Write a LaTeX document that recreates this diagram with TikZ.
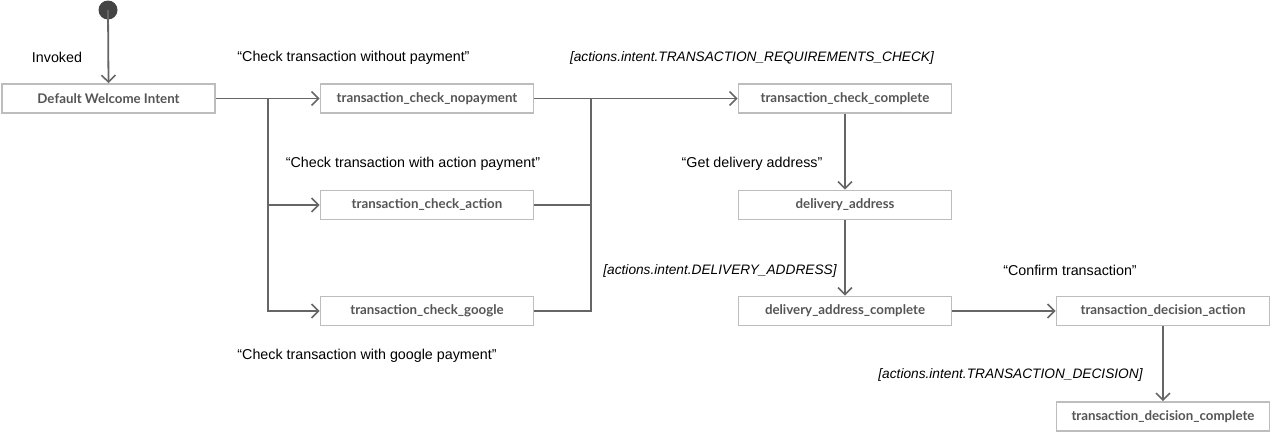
\documentclass[tikz,border=0pt]{standalone}
\usepackage{fontspec}
\setmainfont{Liberation Sans}
\newfontfamily\boxfont{Lato}
\usetikzlibrary{arrows.meta}
\definecolor{boxgray}{HTML}{BDBDBD}
\definecolor{linegray}{HTML}{666666}
\definecolor{textgray}{HTML}{555555}
\definecolor{dotgray}{HTML}{444444}
\begin{document}
\begin{tikzpicture}[x=1pt, y=-1pt,
    state/.style={draw=boxgray, line width=1.6pt, fill=white, minimum width=213pt, minimum height=29pt,
      inner sep=0pt, text=textgray, font=\boxfont\bfseries\fontsize{13.3}{15}\selectfont},
    trigger/.style={inner sep=0pt, font=\fontsize{14.3}{17}\selectfont},
    guard/.style={trigger, font=\itshape\fontsize{13.7}{17}\selectfont},
    flow/.style={draw=linegray, line width=1.8pt, -{Straight Barb[length=7pt, width=14pt, line width=1.6pt]}},
    wire/.style={draw=linegray, line width=1.8pt}]
    \useasboundingbox (0,0) rectangle (1271,432);

    % Start point
    \fill[dotgray] (108,10) circle (9.5) coordinate (start);

    % States
    \node[state] (welcome) at (108.5,98.5) {Default Welcome Intent};
    \node[state] (nopayment) at (427,98.5) {transaction\_check\_nopayment};
    \node[state] (action) at (427,205) {transaction\_check\_action};
    \node[state] (google) at (427,311) {transaction\_check\_google};
    \node[state] (checkcomplete) at (845,98.5) {transaction\_check\_complete};
    \node[state] (address) at (845,205) {delivery\_address};
    \node[state] (addresscomplete) at (845,311) {delivery\_address\_complete};
    \node[state] (decision) at (1163,311) {transaction\_decision\_action};
    \node[state] (decisioncomplete) at (1163,416.5) {transaction\_decision\_complete};

    % Branch and join points
    \coordinate (split) at (268,98.5);
    \coordinate (join) at (591,98.5);

    % Transitions
    \draw[flow] (start) -- (welcome.north);
    \draw[flow] (welcome.east) -- (nopayment.west);
    \draw[flow] (split) |- (action.west);
    \draw[flow] (split) |- (google.west);
    \draw[wire] (action.east) -| (join);
    \draw[wire] (google.east) -| (join);
    \draw[flow] (nopayment.east) -- (checkcomplete.west);
    \draw[flow] (checkcomplete.south) -- (address.north);
    \draw[flow] (address.south) -- (addresscomplete.north);
    \draw[flow] (addresscomplete.east) -- (decision.west);
    \draw[flow] (decision.south) -- (decisioncomplete.north);

    % Labels
    \node[trigger] (invoked) at (57,57.5) {Invoked};
    \node[trigger] (saynopayment) at (353.5,57.5) {“Check transaction without payment”};
    \node[trigger] (sayaction) at (413,163.5) {“Check transaction with action payment”};
    \node[trigger] (saygoogle) at (367,355.5) {“Check transaction with google payment”};
    \node[guard] (requirements) at (752,57.5) {[actions.intent.TRANSACTION\_REQUIREMENTS\_CHECK]};
    \node[trigger] (sayaddress) at (752,163.5) {“Get delivery address”};
    \node[guard] (deliveryintent) at (720,270.5) {[actions.intent.DELIVERY\_ADDRESS]};
    \node[trigger] (sayconfirm) at (1070,270.5) {“Confirm transaction”};
    \node[guard] (decisionintent) at (1010.5,374.5) {[actions.intent.TRANSACTION\_DECISION]};
\end{tikzpicture}
\end{document}
